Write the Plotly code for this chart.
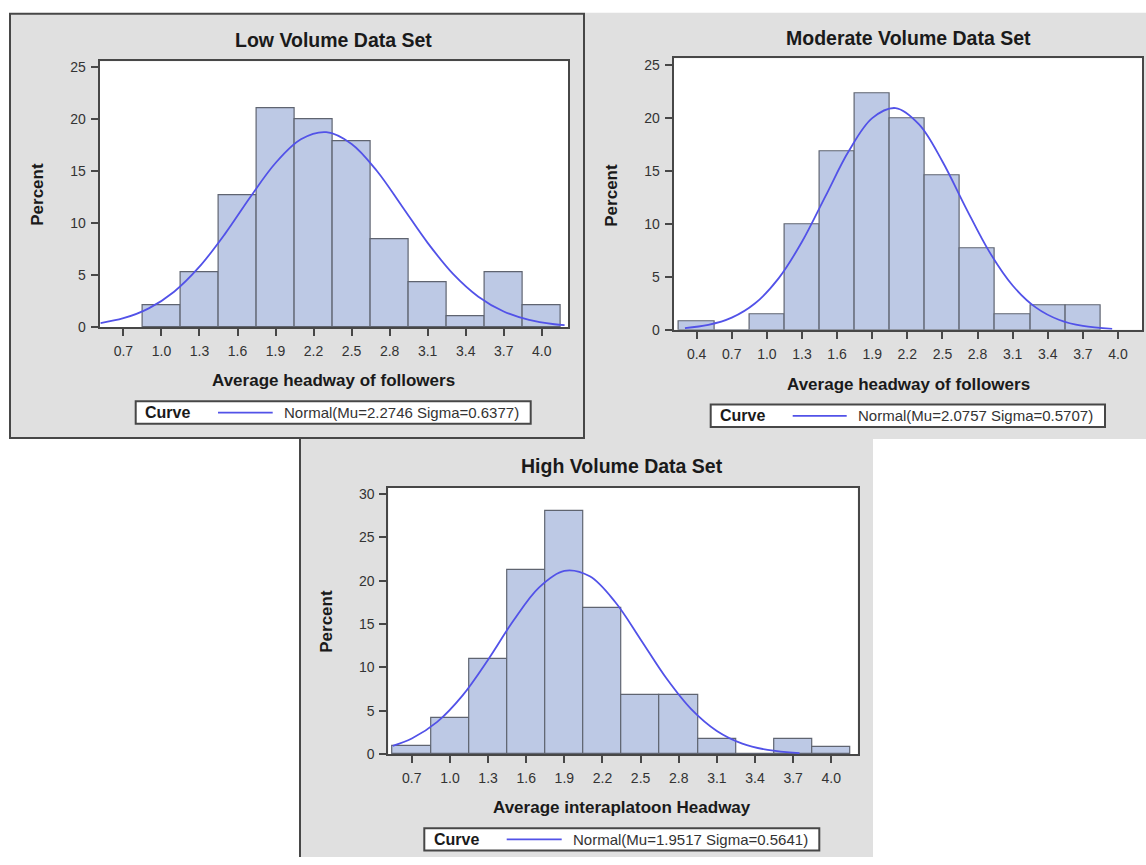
import plotly.graph_objects as go

W, H = 1146, 865

# ---- data ----
low_bins = [1.0, 1.3, 1.6, 1.9, 2.2, 2.5, 2.8, 3.1, 3.4, 3.7, 4.0]
low_pct = [2.1, 5.3, 12.7, 21.1, 20.0, 17.9, 8.5, 4.3, 1.1, 5.3, 2.1]
low_curve_x = [0.52, 0.7, 0.9, 1.1, 1.3, 1.5, 1.7, 1.9, 2.1, 2.3, 2.5, 2.7, 2.9, 3.1, 3.3, 3.5, 3.7, 3.9, 4.1, 4.18]
low_curve_y = [0.43, 0.89, 1.84, 3.44, 5.84, 8.97, 12.51, 15.8, 18.08, 18.76, 17.63, 15.03, 11.6, 8.13, 5.15, 2.96, 1.54, 0.73, 0.31, 0.22]
low_ticks = [0.7, 1.0, 1.3, 1.6, 1.9, 2.2, 2.5, 2.8, 3.1, 3.4, 3.7, 4.0]

mod_bins = [0.4, 0.7, 1.0, 1.3, 1.6, 1.9, 2.2, 2.5, 2.8, 3.1, 3.4, 3.7]
mod_pct = [0.8, 0.0, 1.5, 10.0, 16.9, 22.3, 20.0, 14.6, 7.7, 1.5, 2.3, 2.3]
mod_curve_x = [0.3, 0.5, 0.7, 0.9, 1.1, 1.3, 1.5, 1.7, 1.9, 2.1, 2.3, 2.5, 2.7, 2.9, 3.1, 3.3, 3.5, 3.7, 3.95]
mod_curve_y = [0.17, 0.46, 1.15, 2.51, 4.86, 8.32, 12.61, 16.89, 20.0, 20.95, 19.41, 15.91, 11.53, 7.39, 4.19, 2.1, 0.93, 0.37, 0.1]
mod_ticks = [0.4, 0.7, 1.0, 1.3, 1.6, 1.9, 2.2, 2.5, 2.8, 3.1, 3.4, 3.7, 4.0]

high_bins = [0.7, 1.0, 1.3, 1.6, 1.9, 2.2, 2.5, 2.8, 3.1, 3.4, 3.7, 4.0]
high_pct = [0.9, 4.2, 11.0, 21.2, 28.0, 16.9, 6.8, 6.8, 1.7, 0.0, 1.7, 0.8]
high_curve_x = [0.55, 0.7, 0.9, 1.1, 1.3, 1.5, 1.7, 1.9, 2.1, 2.3, 2.5, 2.7, 2.9, 3.1, 3.3, 3.5, 3.75]
high_curve_y = [0.97, 1.81, 3.73, 6.78, 10.89, 15.4, 19.2, 21.13, 20.5, 17.54, 13.23, 8.81, 5.17, 2.68, 1.22, 0.49, 0.13]
high_ticks = [0.7, 1.0, 1.3, 1.6, 1.9, 2.2, 2.5, 2.8, 3.1, 3.4, 3.7, 4.0]

titles = ["Low Volume Data Set", "Moderate Volume Data Set", "High Volume Data Set"]
xtitles = ["Average headway of followers", "Average headway of followers", "Average interaplatoon Headway"]
legend_texts = ["Normal(Mu=2.2746 Sigma=0.6377)", "Normal(Mu=2.0757 Sigma=0.5707)", "Normal(Mu=1.9517 Sigma=0.5641)"]

BAR = "#bdc9e5"
EDGE = "#5f6470"
CURVE = "#5252e8"
GREY = "#e0e0e0"
FRAME = "#474747"
FONT = "Liberation Sans, Arial, sans-serif"


def px(v):
    return v / W


def py(v):
    return 1 - v / H


# panel geometry in pixels: plot area (left, right, top, bottom) and axis ranges
panels = [
    dict(bins=low_bins, pct=low_pct, cx=low_curve_x, cy=low_curve_y, ticks=low_ticks,
         area=(99.7, 568, 60, 329.3), xr=[0.513, 4.207], yr=[0, 25.57], yt=[0, 5, 10, 15, 20, 25],
         title=(333, 38), xt=(333, 383), yl=(38, 195),
         leg=(135.7, 530.7, 404, 426.7), curve_lbl=142.7, line=(218, 272.7), txt=281.7),
    dict(bins=mod_bins, pct=mod_pct, cx=mod_curve_x, cy=mod_curve_y, ticks=mod_ticks,
         area=(673.7, 1142, 57, 331.7), xr=[0.204, 4.205], yr=[0, 25.65], yt=[0, 5, 10, 15, 20, 25],
         title=(908, 36), xt=(908, 387), yl=(612, 196),
         leg=(710.7, 1105, 407.3, 430), curve_lbl=717.7, line=(792.7, 846.7), txt=856),
    dict(bins=high_bins, pct=high_pct, cx=high_curve_x, cy=high_curve_y, ticks=high_ticks,
         area=(388.3, 857.7, 491.7, 761), xr=[0.515, 4.208], yr=[0, 30.68], yt=[0, 5, 10, 15, 20, 25, 30],
         title=(622, 469), xt=(622, 815), yl=(327, 627),
         leg=(424.3, 819.3, 836, 858.3), curve_lbl=431.7, line=(506.7, 561.7), txt=570.7),
]

fig = go.Figure()
shapes = []
annotations = []

# grey panel backgrounds
shapes.append(dict(type="rect", xref="paper", yref="paper", x0=px(585), x1=px(1146), y0=py(442), y1=py(11),
                   fillcolor=GREY, line=dict(width=0), layer="below"))
shapes.append(dict(type="rect", xref="paper", yref="paper", x0=px(300), x1=px(873), y0=py(865), y1=py(442),
                   fillcolor=GREY, line=dict(width=0), layer="below"))
shapes.append(dict(type="line", xref="paper", yref="paper", x0=px(300), x1=px(300), y0=py(865), y1=py(441),
                   line=dict(color=FRAME, width=2), layer="below"))
shapes.append(dict(type="rect", xref="paper", yref="paper", x0=px(10), x1=px(584), y0=py(441), y1=py(12),
                   fillcolor=GREY, line=dict(color=FRAME, width=2), layer="below"))


def note(text, x, y, size, color="#1a1a1a", xanchor="center", angle=0):
    return dict(text=text, xref="paper", yref="paper", x=px(x), y=py(y), showarrow=False,
                xanchor=xanchor, yanchor="middle", textangle=angle,
                font=dict(family=FONT, size=size, color=color))


for i, p in enumerate(panels):
    n = "" if i == 0 else str(i + 1)
    xa, ya = "x" + n, "y" + n
    fig.add_trace(go.Bar(x=p["bins"], y=p["pct"], width=0.3, xaxis=xa, yaxis=ya,
                         marker=dict(color=BAR, line=dict(color=EDGE, width=1.2)),
                         showlegend=False, hoverinfo="x+y"))
    fig.add_trace(go.Scatter(x=p["cx"], y=p["cy"], mode="lines", xaxis=xa, yaxis=ya,
                             line=dict(color=CURVE, width=1.8, shape="spline"),
                             showlegend=False))
    l, r, t, b = p["area"]
    axis_common = dict(showline=True, linecolor=FRAME, linewidth=2, mirror=True,
                       ticks="outside", ticklen=7, tickwidth=1.5, tickcolor=FRAME,
                       showgrid=False, zeroline=False,
                       tickfont=dict(family=FONT, size=14, color="#333333"))
    fig.layout["xaxis" + n] = dict(axis_common, domain=[px(l), px(r)], range=p["xr"], anchor=ya,
                                   tickvals=p["ticks"], tickformat=".1f", ticklabelstandoff=3)
    fig.layout["yaxis" + n] = dict(axis_common, domain=[py(b), py(t)], range=p["yr"], anchor=xa,
                                   tickvals=p["yt"], ticklabelstandoff=2)
    # white plot area
    shapes.append(dict(type="rect", xref="paper", yref="paper", x0=px(l), x1=px(r), y0=py(b), y1=py(t),
                       fillcolor="white", line=dict(width=0), layer="below"))

    annotations.append(note("<b>%s</b>" % titles[i], p["title"][0], p["title"][1], 19.5))
    annotations.append(note("<b>%s</b>" % xtitles[i], p["xt"][0], p["xt"][1], 17))
    annotations.append(note("<b>Percent</b>", p["yl"][0], p["yl"][1], 17, angle=-90))

    # legend box
    ll, lr, lt, lb = p["leg"]
    shapes.append(dict(type="rect", xref="paper", yref="paper", x0=px(ll), x1=px(lr), y0=py(lb), y1=py(lt),
                       fillcolor="white", line=dict(color=FRAME, width=2)))
    ymid = (lt + lb) / 2
    shapes.append(dict(type="line", xref="paper", yref="paper", x0=px(p["line"][0]), x1=px(p["line"][1]),
                       y0=py(ymid), y1=py(ymid), line=dict(color=CURVE, width=1.8)))
    annotations.append(note("<b>Curve</b>", p["curve_lbl"], ymid, 16, xanchor="left"))
    annotations.append(note(legend_texts[i], p["txt"], ymid, 15, color="#333333", xanchor="left"))

fig.update_layout(width=W, height=H, margin=dict(l=0, r=0, t=0, b=0),
                  paper_bgcolor="white", plot_bgcolor="rgba(0,0,0,0)",
                  bargap=0, shapes=shapes, annotations=annotations, showlegend=False)

fig.write_html("out.html", config={"displayModeBar": False},
               post_script="document.body.style.margin='0';document.body.style.overflow='hidden';")
